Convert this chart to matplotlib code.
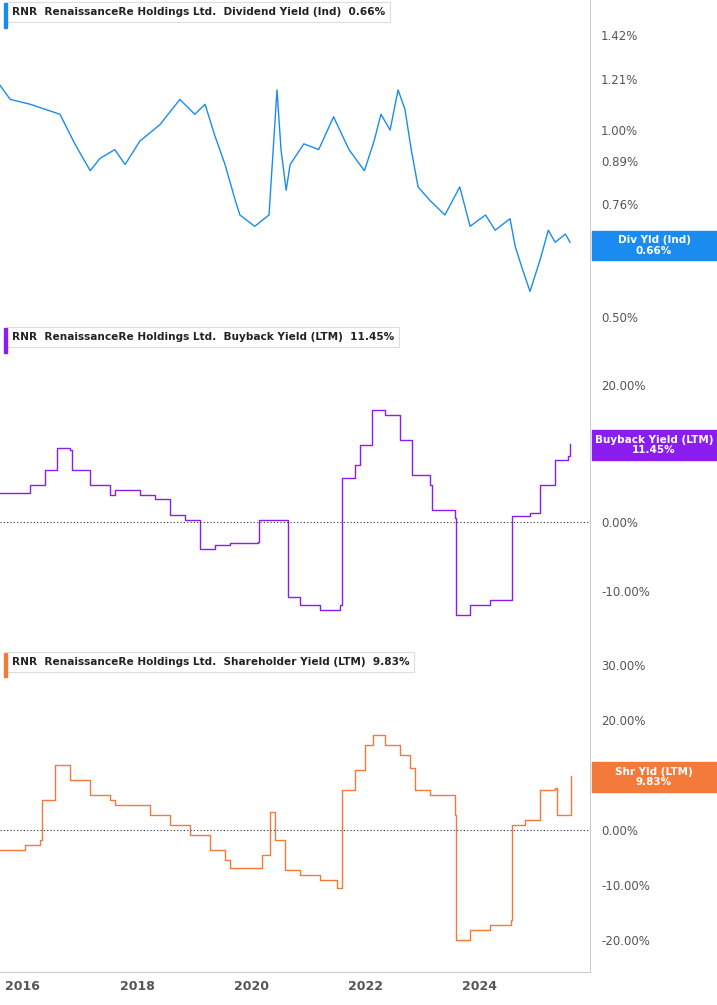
import matplotlib
matplotlib.use("Agg")
import matplotlib.pyplot as plt
import matplotlib.ticker as mt
import numpy as np

# Dividend yield (%) by year
div_t = [2015.60,2015.78,2016.13,2016.65,2016.91,2017.18,2017.35,2017.61,2017.79,2018.05,2018.40,2018.75,2019.01,2019.19,2019.36,2019.54,2019.72,2019.80,2020.06,2020.31,2020.45,2020.52,2020.61,2020.68,2020.92,2021.18,2021.44,2021.71,2021.98,2022.15,2022.27,2022.43,2022.57,2022.69,2022.80,2022.92,2023.13,2023.39,2023.65,2023.83,2024.10,2024.27,2024.53,2024.62,2024.74,2024.88,2025.06,2025.20,2025.32,2025.50,2025.58]
div_v = [1.18,1.12,1.10,1.06,0.95,0.86,0.90,0.93,0.88,0.96,1.02,1.12,1.06,1.10,0.98,0.88,0.77,0.73,0.70,0.73,1.16,0.93,0.80,0.88,0.95,0.93,1.05,0.93,0.86,0.96,1.06,1.00,1.16,1.08,0.93,0.81,0.77,0.73,0.81,0.70,0.73,0.69,0.72,0.65,0.60,0.55,0.62,0.69,0.66,0.68,0.66]

# Buyback yield (%), step series
bb_t = [2015.60,2016.13,2016.39,2016.60,2016.83,2016.86,2017.18,2017.53,2017.62,2018.05,2018.31,2018.58,2018.84,2019.10,2019.36,2019.63,2020.12,2020.13,2020.34,2020.63,2020.64,2020.85,2021.20,2021.55,2021.59,2021.82,2021.90,2022.11,2022.34,2022.60,2022.81,2023.13,2023.17,2023.57,2023.59,2023.83,2024.18,2024.55,2024.57,2024.88,2025.06,2025.32,2025.55,2025.58]
bb_v = [4.2,5.4,7.6,10.8,10.5,7.6,5.4,4.0,4.7,4.0,3.3,1.0,0.3,-4.0,-3.3,-3.0,-2.9,0.3,0.3,0.3,-11.0,-12.1,-12.8,-12.1,6.4,8.3,11.2,16.3,15.6,12.0,6.9,5.4,1.8,0.6,-13.6,-12.1,-11.4,-11.4,0.9,1.3,5.4,9.0,9.7,11.45]

# Shareholder yield (%), step series
sh_t = [2015.60,2016.04,2016.30,2016.34,2016.56,2016.83,2017.18,2017.53,2017.62,2018.23,2018.58,2018.93,2019.28,2019.54,2019.63,2020.07,2020.19,2020.33,2020.42,2020.59,2020.85,2021.20,2021.50,2021.59,2021.82,2021.99,2022.13,2022.34,2022.60,2022.78,2022.87,2023.13,2023.57,2023.59,2023.83,2024.18,2024.55,2024.57,2024.80,2025.06,2025.32,2025.36,2025.57,2025.59]
sh_v = [-3.6,-2.7,-1.8,5.5,11.8,9.1,6.4,5.5,4.5,2.7,0.9,-0.9,-3.6,-5.5,-6.9,-6.9,-4.5,3.3,-1.8,-7.3,-8.2,-9.1,-10.5,7.3,10.9,15.5,17.3,15.5,13.6,11.3,7.3,6.4,2.7,-20.0,-18.2,-17.3,-16.4,0.9,1.8,7.3,7.6,2.7,2.7,9.83]

ticks1 = [0.50,0.66,0.76,0.89,1.00,1.21,1.42]
ticks2 = [-10,0,10,20]
ticks3 = [-20,-10,0,10,20,30]
years = [2016,2018,2020,2022,2024]

fig = plt.figure(figsize=(7.17,10.05), dpi=100)
W, H = 717, 1005
pl, pr = 0, 590
def ax_at(top, bot):
    return fig.add_axes([pl/W, 1-bot/H, (pr-pl)/W, (bot-top)/H])
a1 = ax_at(0, 325); a2 = ax_at(325, 650); a3 = ax_at(650, 972)
xlim = (2015.6, 2025.93)
gray = "#555555"
for a in (a1, a2, a3):
    a.set_xlim(*xlim)
    a.yaxis.tick_right()
    a.tick_params(axis="y", length=0, labelsize=8.5, colors=gray, pad=8)
    for s in ("top", "left"):
        a.spines[s].set_visible(False)
    a.spines["right"].set_color("#cccccc")
    a.spines["bottom"].set_color("#cccccc")
    a.set_xticks([])

pct = mt.FuncFormatter(lambda v, p: f"{v:.2f}%")

# Panel 1
a1.plot(div_t, div_v, color="#1a8cf0", lw=1)
a1.set_yscale("log")
a1.set_ylim(np.exp(-(325-130)/270), np.exp(130/270))
a1.yaxis.set_major_locator(mt.FixedLocator(ticks1))
a1.yaxis.set_minor_locator(mt.NullLocator())
a1.yaxis.set_major_formatter(pct)

# Panel 2
a2.step(bb_t, bb_v, where="post", color="#8a1ef0", lw=1)
a2.set_ylim((522-650)/6.85, (522-325)/6.85)
a2.set_yticks(ticks2)
a2.yaxis.set_major_formatter(pct)
a2.axhline(0, color="#333333", lw=0.8, ls=(0, (1, 2)))

# Panel 3
a3.step(sh_t, sh_v, where="post", color="#f47a3c", lw=1)
a3.set_ylim((830-972)/5.5, (830-650)/5.5)
a3.set_yticks(ticks3)
a3.yaxis.set_major_formatter(pct)
a3.axhline(0, color="#333333", lw=0.8, ls=(0, (1, 2)))
a3.set_xticks(years)
a3.set_xticklabels([str(y) for y in years], fontsize=9, color=gray, fontweight="bold")
a3.tick_params(axis="x", length=0, pad=6)

def title(ax, color, metric, val):
    ax.text(0.02, 0.978, f"RNR  RenaissanceRe Holdings Ltd.  {metric}  {val}",
            transform=ax.transAxes, fontsize=7.6, fontweight="bold", color="#222222",
            va="top", ha="left",
            bbox=dict(boxstyle="square,pad=0.45", fc="white", ec="#dddddd", lw=0.8))
    ax.add_patch(plt.Rectangle((0.006, 0.915), 0.006, 0.075, transform=ax.transAxes,
                               color=color, clip_on=False, zorder=5))

title(a1, "#1a8cf0", "Dividend Yield (Ind)", "0.66%")
title(a2, "#8a1ef0", "Buyback Yield (LTM)", "11.45%")
title(a3, "#f47a3c", "Shareholder Yield (LTM)", "9.83%")

def tag(top, h, color, l1, l2):
    fig.patches.append(plt.Rectangle((592/W, 1-(top+h)/H), 125/W, h/H,
                                     transform=fig.transFigure, color=color, zorder=10))
    fig.text(654/W, 1-(top+h/2)/H, f"{l1}\n{l2}", ha="center", va="center",
             color="white", fontsize=7.5, fontweight="bold", zorder=11, linespacing=1.1)

tag(231, 29, "#1a8cf0", "Div Yld (Ind)", "0.66%")
tag(430, 30, "#8a1ef0", "Buyback Yield (LTM)", "11.45%")
tag(762, 30, "#f47a3c", "Shr Yld (LTM)", "9.83%")

fig.savefig("out.png", dpi=100)
